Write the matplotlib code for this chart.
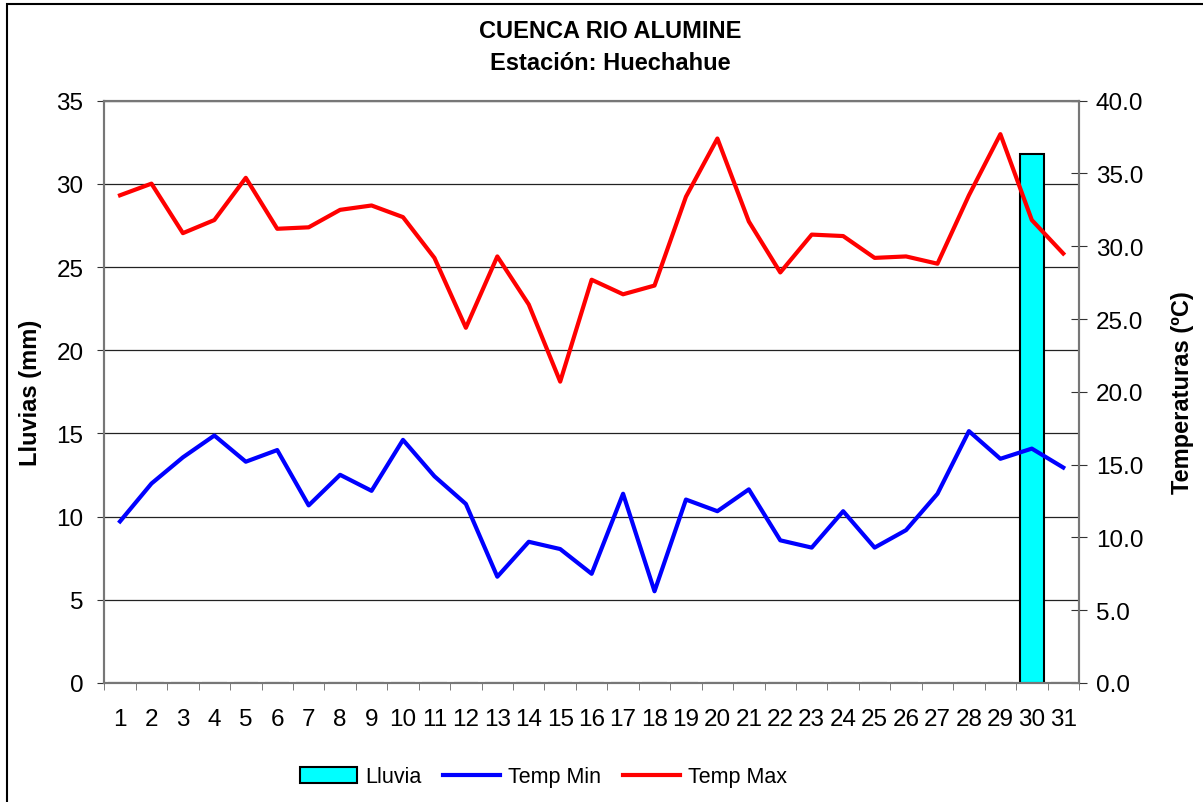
import matplotlib.pyplot as plt
import matplotlib.patches as mpatches
from matplotlib.lines import Line2D
import numpy as np

plt.rcParams['font.family'] = ['Liberation Sans', 'DejaVu Sans']

# Datos de la estación
dias = list(range(1, 32))
lluvia = [0] * 29 + [31.8, 0]
temp_min = [11.1, 13.7, 15.5, 17.0, 15.2, 16.0, 12.2, 14.3, 13.2, 16.7,
            14.2, 12.3, 7.3, 9.7, 9.2, 7.5, 13.0, 6.3, 12.6, 11.8,
            13.3, 9.8, 9.3, 11.8, 9.3, 10.5, 13.0, 17.3, 15.4, 16.1, 14.8]
temp_max = [33.5, 34.3, 30.9, 31.8, 34.7, 31.2, 31.3, 32.5, 32.8, 32.0,
            29.2, 24.4, 29.3, 26.0, 20.7, 27.7, 26.7, 27.3, 33.4, 37.4,
            31.7, 28.2, 30.8, 30.7, 29.2, 29.3, 28.8, 33.5, 37.7, 31.8, 29.5]

fig = plt.figure(figsize=(12.03, 8.03), dpi=100)
ax1 = fig.add_axes([0.0867, 0.1482, 0.8102, 0.7252])
ax2 = ax1.twinx()

x = np.array(dias)

# Barras de lluvia (eje izquierdo)
ax1.bar(x, lluvia, width=0.78, color='#00FFFF', edgecolor='black', linewidth=1.5, zorder=3)
ax1.set_ylim(0, 35)
ax1.set_yticks(np.arange(0, 36, 5))
ax1.set_xlim(0.5, 31.5)
ax1.set_xticks(x)
ax1.set_xticklabels([str(d) for d in dias])
ax1.set_xticks(np.arange(0.5, 32, 1), minor=True)
ax1.tick_params(axis='x', which='major', length=0, pad=18, labelsize=17.5)
ax1.tick_params(axis='x', which='minor', direction='out', length=5, color='#666666')
ax1.tick_params(axis='y', direction='out', length=5, pad=10, labelsize=17.5, color='#333333')
ax1.yaxis.grid(True, color='#222222', linewidth=0.9, zorder=0)
ax1.set_axisbelow(True)
ax1.set_ylabel('Lluvias (mm)', fontsize=17, fontweight='bold', labelpad=10)

# Temperaturas (eje derecho)
ax2.plot(x, temp_min, color='#0000FF', linewidth=3)
ax2.plot(x, temp_max, color='#FF0000', linewidth=3)
ax2.set_ylim(0, 40)
ax2.set_yticks(np.arange(0, 41, 5))
ax2.set_yticklabels([f'{v:.1f}' for v in np.arange(0, 41, 5)])
ax2.tick_params(axis='y', direction='inout', length=12, pad=6, labelsize=17.5, color='#333333')
ax2.set_ylabel('Temperaturas (ºC)', fontsize=17, fontweight='bold', labelpad=20)

for ax in (ax1, ax2):
    for s in ax.spines.values():
        s.set_color('#777777')
        s.set_linewidth(1.5)

# Títulos
fig.text(0.507, 1 - 32 / 803, 'CUENCA RIO ALUMINE', ha='center', va='center',
         fontsize=17, fontweight='bold')
fig.text(0.507, 1 - 64 / 803, 'Estación: Huechahue', ha='center', va='center',
         fontsize=17, fontweight='bold')

# Leyenda
handles = [mpatches.Patch(facecolor='#00FFFF', edgecolor='black', linewidth=1.5),
           Line2D([], [], color='#0000FF', linewidth=3),
           Line2D([], [], color='#FF0000', linewidth=3)]
fig.legend(handles, ['Lluvia', 'Temp Min', 'Temp Max'], loc='center',
           bbox_to_anchor=(543.5 / 1203, 1 - 778 / 803), ncol=3, frameon=False,
           fontsize=15.5, handlelength=2.65, handletextpad=0.37, columnspacing=1.0)

# Marco exterior
fig.patches.append(mpatches.Rectangle((7 / 1203, -0.1), 1.1, 1.1 - 5 / 803,
                                      transform=fig.transFigure, fill=False,
                                      edgecolor='black', linewidth=1.5))

fig.savefig('out.png', dpi=100)
